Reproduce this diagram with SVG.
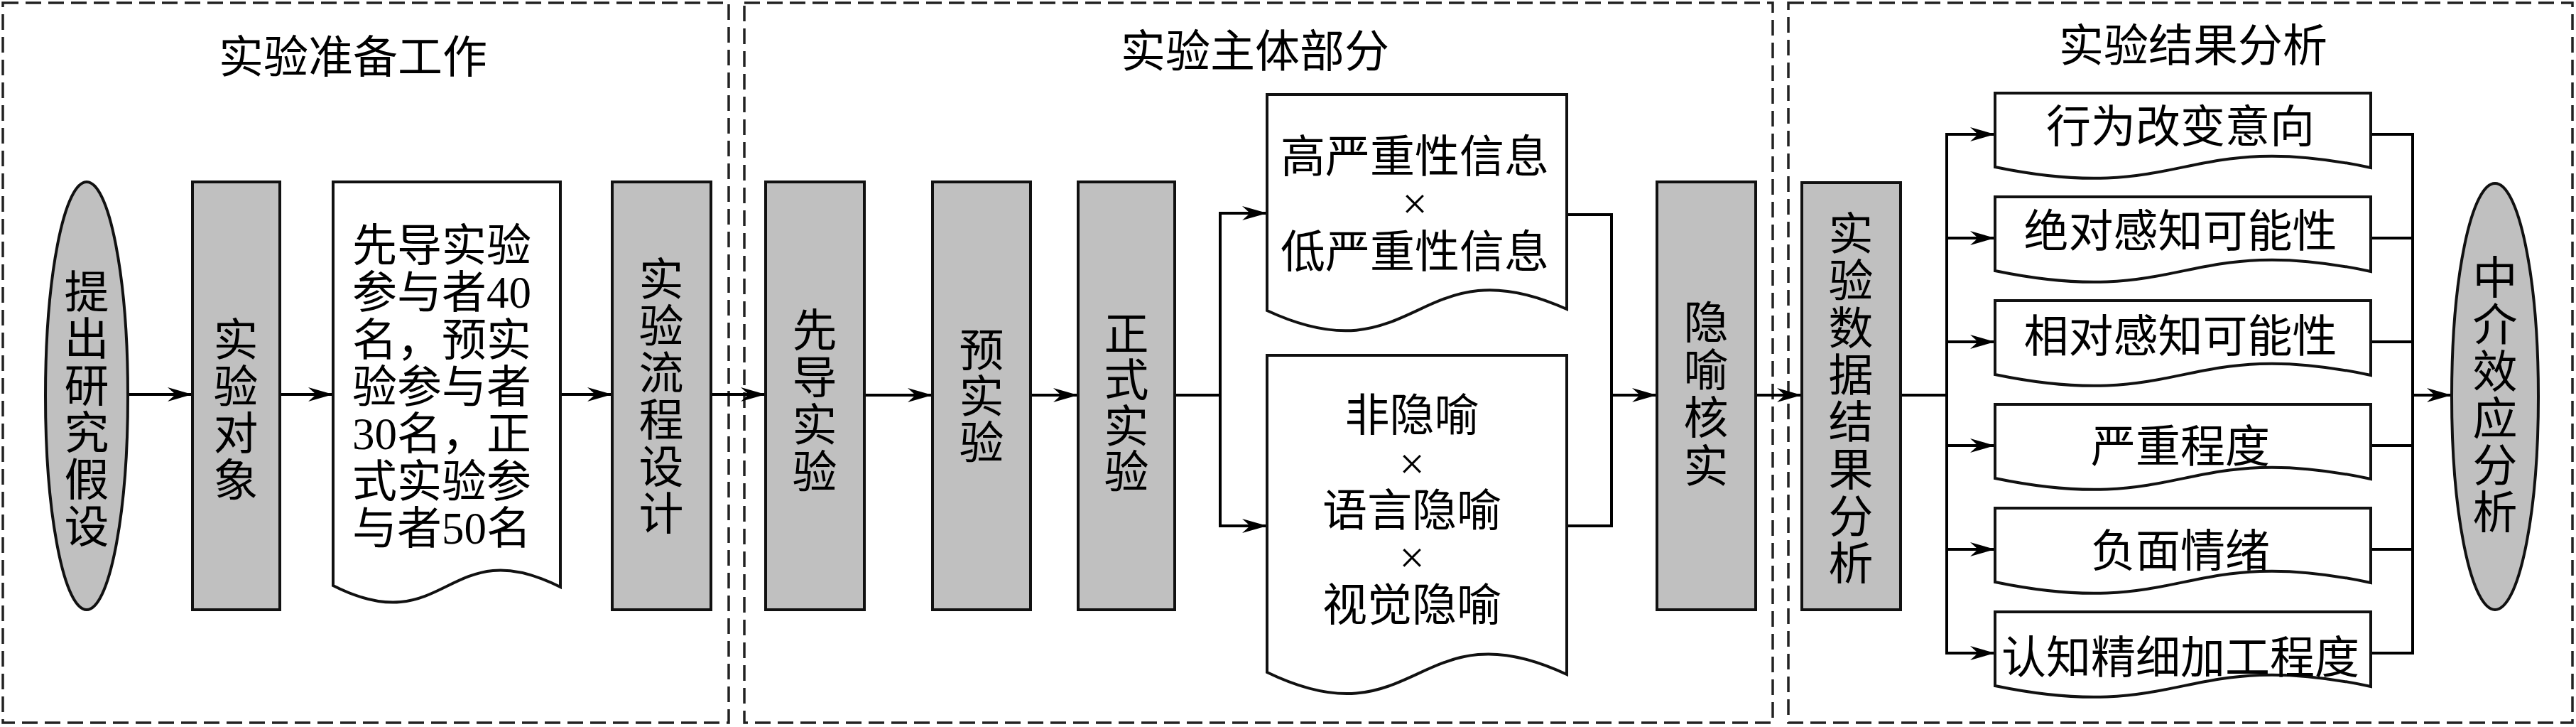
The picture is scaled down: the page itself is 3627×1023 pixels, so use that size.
<svg xmlns="http://www.w3.org/2000/svg" width="3627" height="1023" viewBox="0 0 3627 1023">
<style>
.panel{fill:none;stroke:#222;stroke-width:3.5;stroke-dasharray:22 10}
.box{fill:#c0c0c0;stroke:#111;stroke-width:4}
.doc{fill:#fff;stroke:#111;stroke-width:4}
.t{font-family:"Liberation Serif","Noto Sans CJK SC",serif;font-size:63px;fill:#000;text-anchor:middle}
.c{fill:none;stroke:#000;stroke-width:4}
.a{fill:none;stroke:#000;stroke-width:4;marker-end:url(#arr)}
</style>
<defs>
<marker id="arr" markerUnits="userSpaceOnUse" markerWidth="36" markerHeight="22" viewBox="0 0 36 22" refX="35" refY="11" orient="auto">
<path d="M0,1 L35,11 L0,21 L11,11 Z" fill="#000"/>
</marker>
</defs>
<rect fill="#fff" x="0" y="0" width="3627" height="1023"/>

<g id="panel-prep">
<rect class="panel" x="4" y="4" width="1022" height="1013"/>
<text class="t" x="497" y="102">实验准备工作</text>
</g>
<g id="panel-main">
<rect class="panel" x="1048" y="4" width="1448" height="1013"/>
<text class="t" x="1767" y="94">实验主体部分</text>
</g>
<g id="panel-result">
<rect class="panel" x="2518" y="4" width="1104" height="1013"/>
<text class="t" x="3088" y="86">实验结果分析</text>
</g>

<g id="connectors">
<line class="a" x1="181" y1="555" x2="271" y2="555"/>
<line class="a" x1="394" y1="555" x2="469" y2="555"/>
<line class="a" x1="789" y1="555" x2="862" y2="555"/>
<line class="a" x1="1001" y1="555" x2="1078" y2="555"/>
<line class="a" x1="1217" y1="556" x2="1313" y2="556"/>
<line class="a" x1="1451" y1="556" x2="1518" y2="556"/>
<polyline class="c" points="1654,556 1718,556"/>
<polyline class="c" points="1718,300 1718,740"/>
<line class="a" x1="1716" y1="300" x2="1784" y2="300"/>
<line class="a" x1="1716" y1="740" x2="1784" y2="740"/>
<polyline class="c" points="2206,302 2269,302 2269,740 2206,740"/>
<line class="a" x1="2269" y1="556" x2="2333" y2="556"/>
<line class="a" x1="2472" y1="556" x2="2537" y2="556"/>
<polyline class="c" points="2676,556 2741,556"/>
<polyline class="c" points="2741,189 2741,919"/>
<line class="a" x1="2739" y1="189" x2="2809" y2="189"/>
<line class="a" x1="2739" y1="335" x2="2809" y2="335"/>
<line class="a" x1="2739" y1="481" x2="2809" y2="481"/>
<line class="a" x1="2739" y1="627" x2="2809" y2="627"/>
<line class="a" x1="2739" y1="773" x2="2809" y2="773"/>
<line class="a" x1="2739" y1="919" x2="2809" y2="919"/>
<polyline class="c" points="3338,189 3397,189"/>
<polyline class="c" points="3338,335 3397,335"/>
<polyline class="c" points="3338,481 3397,481"/>
<polyline class="c" points="3338,627 3397,627"/>
<polyline class="c" points="3338,773 3397,773"/>
<polyline class="c" points="3338,919 3397,919"/>
<polyline class="c" points="3397,187 3397,921"/>
<line class="a" x1="3397" y1="556" x2="3452" y2="556"/>
</g>

<g id="n-hypothesis">
<ellipse class="box" cx="122" cy="557" rx="58" ry="301"/>
<text class="t"><tspan x="122" y="433">提</tspan><tspan x="122" y="499">出</tspan><tspan x="122" y="565">研</tspan><tspan x="122" y="631">究</tspan><tspan x="122" y="697">假</tspan><tspan x="122" y="763">设</tspan></text>
</g>
<g id="n-subjects">
<rect class="box" x="271" y="256" width="123" height="602"/>
<text class="t"><tspan x="332" y="500">实</tspan><tspan x="332" y="566">验</tspan><tspan x="332" y="632">对</tspan><tspan x="332" y="698">象</tspan></text>
</g>
<g id="n-participants">
<path class="doc" d="M469,824 V256 H789 V826 C629,745 629,905 469,824 Z"/>
<text class="t"><tspan x="622" y="367">先导实验</tspan><tspan x="622" y="433">参与者40</tspan><tspan x="622" y="500">名，预实</tspan><tspan x="622" y="566">验参与者</tspan><tspan x="622" y="632">30名，正</tspan><tspan x="622" y="699">式实验参</tspan><tspan x="622" y="765">与者50名</tspan></text>
</g>
<g id="n-design">
<rect class="box" x="862" y="256" width="139" height="602"/>
<text class="t"><tspan x="931" y="415">实</tspan><tspan x="931" y="481">验</tspan><tspan x="931" y="547">流</tspan><tspan x="931" y="613">程</tspan><tspan x="931" y="679">设</tspan><tspan x="931" y="745">计</tspan></text>
</g>

<g id="n-pilot">
<rect class="box" x="1078" y="256" width="139" height="602"/>
<text class="t"><tspan x="1147" y="487">先</tspan><tspan x="1147" y="553">导</tspan><tspan x="1147" y="620">实</tspan><tspan x="1147" y="686">验</tspan></text>
</g>
<g id="n-pretest">
<rect class="box" x="1313" y="256" width="138" height="602"/>
<text class="t"><tspan x="1382" y="515">预</tspan><tspan x="1382" y="580">实</tspan><tspan x="1382" y="645">验</tspan></text>
</g>
<g id="n-formal">
<rect class="box" x="1518" y="256" width="136" height="602"/>
<text class="t"><tspan x="1586" y="492">正</tspan><tspan x="1586" y="557">式</tspan><tspan x="1586" y="622">实</tspan><tspan x="1586" y="686">验</tspan></text>
</g>
<g id="n-severity">
<path class="doc" d="M1784,437 V133 H2206 V435 C1995,340 1995,535 1784,437 Z"/>
<text class="t"><tspan x="1992" y="242">高严重性信息</tspan><tspan x="1992" y="308">×</tspan><tspan x="1992" y="376">低严重性信息</tspan></text>
</g>
<g id="n-metaphor">
<path class="doc" d="M1784,946 V500 H2206 V949 C1995,850 1995,1048 1784,946 Z"/>
<text class="t"><tspan x="1988" y="606">非隐喻</tspan><tspan x="1988" y="674">×</tspan><tspan x="1988" y="740">语言隐喻</tspan><tspan x="1988" y="806">×</tspan><tspan x="1988" y="873">视觉隐喻</tspan></text>
</g>
<g id="n-check">
<rect class="box" x="2333" y="256" width="139" height="602"/>
<text class="t"><tspan x="2402" y="476">隐</tspan><tspan x="2402" y="543">喻</tspan><tspan x="2402" y="610">核</tspan><tspan x="2402" y="678">实</tspan></text>
</g>

<g id="n-data">
<rect class="box" x="2537" y="257" width="139" height="601"/>
<text class="t"><tspan x="2606" y="351">实</tspan><tspan x="2606" y="417">验</tspan><tspan x="2606" y="484">数</tspan><tspan x="2606" y="550">据</tspan><tspan x="2606" y="616">结</tspan><tspan x="2606" y="683">果</tspan><tspan x="2606" y="749">分</tspan><tspan x="2606" y="815">析</tspan></text>
</g>
<g id="n-intent">
<path class="doc" d="M2809,235 V131 H3338 V236 C3075,180 3075,290 2809,235 Z"/>
<text class="t" x="3070" y="200">行为改变意向</text>
</g>
<g id="n-absolute">
<path class="doc" d="M2809,381 V277 H3338 V382 C3075,326 3075,436 2809,381 Z"/>
<text class="t" x="3070" y="347">绝对感知可能性</text>
</g>
<g id="n-relative">
<path class="doc" d="M2809,527 V423 H3338 V528 C3075,472 3075,582 2809,527 Z"/>
<text class="t" x="3070" y="495">相对感知可能性</text>
</g>
<g id="n-degree">
<path class="doc" d="M2809,673 V569 H3338 V674 C3075,618 3075,728 2809,673 Z"/>
<text class="t" x="3070" y="650">严重程度</text>
</g>
<g id="n-emotion">
<path class="doc" d="M2809,819 V715 H3338 V820 C3075,764 3075,874 2809,819 Z"/>
<text class="t" x="3070" y="797">负面情绪</text>
</g>
<g id="n-elaboration">
<path class="doc" d="M2809,965 V861 H3338 V966 C3075,910 3075,1020 2809,965 Z"/>
<text class="t" x="3070" y="947">认知精细加工程度</text>
</g>
<g id="n-mediation">
<ellipse class="box" cx="3513" cy="558" rx="61" ry="300"/>
<text class="t"><tspan x="3513" y="413">中</tspan><tspan x="3513" y="479">介</tspan><tspan x="3513" y="545">效</tspan><tspan x="3513" y="611">应</tspan><tspan x="3513" y="677">分</tspan><tspan x="3513" y="743">析</tspan></text>
</g>
</svg>
